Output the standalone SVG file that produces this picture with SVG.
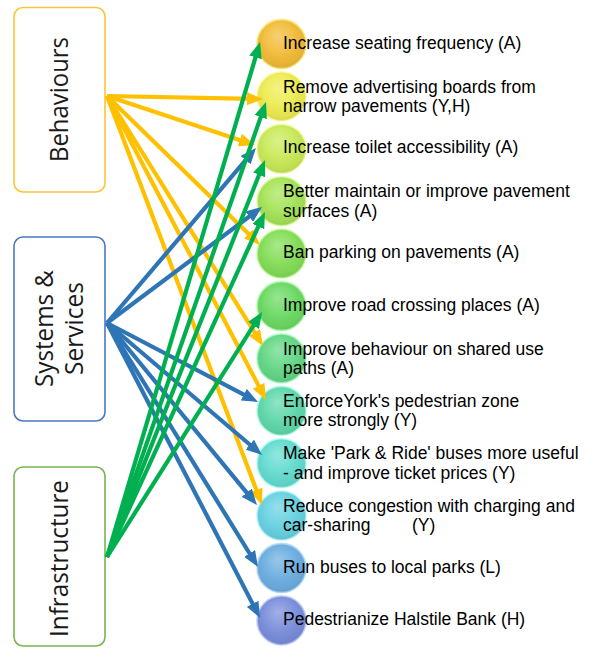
<svg xmlns="http://www.w3.org/2000/svg" width="595" height="648" viewBox="0 0 595 648">
<style>
.box{fill:#fff;stroke-width:1.6}
.bt{font-family:"Open Sans","Liberation Sans",sans-serif;font-size:25px;fill:#1a1a1a;text-anchor:middle}
.lt{font-family:"Liberation Sans",Arial,sans-serif;font-size:17.5px;fill:#000}
.ball{stroke-width:1.8;stroke-opacity:0.8}
.shade{fill:url(#shade)}
.y{stroke:#FFC000;stroke-width:4.2;fill:none;marker-end:url(#ay)}
.b{stroke:#2E75B6;stroke-width:4.2;fill:none;marker-end:url(#ab)}
.g{stroke:#00B050;stroke-width:4.2;fill:none;marker-end:url(#ag)}
</style>
<defs>
<radialGradient id="shade" cx="0.48" cy="0.42" r="0.55" fx="0.42" fy="0.32">
<stop offset="0" stop-color="#fff" stop-opacity="0.3"/>
<stop offset="0.55" stop-color="#fff" stop-opacity="0.06"/>
<stop offset="0.88" stop-color="#000" stop-opacity="0.04"/>
<stop offset="1" stop-color="#000" stop-opacity="0.08"/>
</radialGradient>
<marker id="ay" markerUnits="userSpaceOnUse" markerWidth="16" markerHeight="13" viewBox="0 0 16 13" refX="6" refY="6.5" orient="auto"><path d="M0,0 L16,6.5 L0,13 z" fill="#FFC000"/></marker>
<marker id="ab" markerUnits="userSpaceOnUse" markerWidth="16" markerHeight="13" viewBox="0 0 16 13" refX="6" refY="6.5" orient="auto"><path d="M0,0 L16,6.5 L0,13 z" fill="#2E75B6"/></marker>
<marker id="ag" markerUnits="userSpaceOnUse" markerWidth="16" markerHeight="13" viewBox="0 0 16 13" refX="6" refY="6.5" orient="auto"><path d="M0,0 L16,6.5 L0,13 z" fill="#00B050"/></marker>
</defs>

<g id="behaviours">
<rect class="box" x="14" y="7.5" width="91" height="184.5" rx="9" stroke="#F9C53A"/>
<text class="bt" transform="translate(68,99.5) rotate(-90)" textLength="125" lengthAdjust="spacingAndGlyphs">Behaviours</text>
</g>
<g id="systems">
<rect class="box" x="14" y="237" width="91" height="184" rx="9" stroke="#4A78C8"/>
<text class="bt" transform="translate(53,328.5) rotate(-90)" textLength="117" lengthAdjust="spacingAndGlyphs">Systems &amp;</text>
<text class="bt" transform="translate(83,328.5) rotate(-90)" textLength="93" lengthAdjust="spacingAndGlyphs">Services</text>
</g>
<g id="infrastructure">
<rect class="box" x="14" y="467" width="91" height="179" rx="9" stroke="#78B450"/>
<text class="bt" transform="translate(68,558.5) rotate(-90)" textLength="157" lengthAdjust="spacingAndGlyphs">Infrastructure</text>
</g>

<g id="n1"><circle class="ball" cx="281.5" cy="44" r="24.5" fill="#F2BC38" stroke="#FFE878"/><circle class="shade" cx="281.5" cy="44" r="24.5"/>
<text class="lt" x="283" y="48.5">Increase seating frequency (A)</text></g>
<g id="n2"><circle class="ball" cx="281.5" cy="96.4" r="24.5" fill="#EEEC52" stroke="#FFFFA0"/><circle class="shade" cx="281.5" cy="96.4" r="24.5"/>
<text class="lt" x="283" y="92.5">Remove advertising boards from</text><text class="lt" x="283" y="112">narrow pavements (Y,H)</text></g>
<g id="n3"><circle class="ball" cx="281.5" cy="148.8" r="24.5" fill="#C9EA58" stroke="#F4FFA0"/><circle class="shade" cx="281.5" cy="148.8" r="24.5"/>
<text class="lt" x="283" y="153.3">Increase toilet accessibility (A)</text></g>
<g id="n4"><circle class="ball" cx="281.5" cy="201.2" r="24.5" fill="#A6E458" stroke="#E4FFA0"/><circle class="shade" cx="281.5" cy="201.2" r="24.5"/>
<text class="lt" x="283" y="197.3">Better maintain or improve pavement</text><text class="lt" x="283" y="216.8">surfaces (A)</text></g>
<g id="n5"><circle class="ball" cx="281.5" cy="253.6" r="24.5" fill="#84DE58" stroke="#CCFFA0"/><circle class="shade" cx="281.5" cy="253.6" r="24.5"/>
<text class="lt" x="283" y="258.1">Ban parking on pavements (A)</text></g>
<g id="n6"><circle class="ball" cx="281.5" cy="306" r="24.5" fill="#6CDA64" stroke="#B8FFB0"/><circle class="shade" cx="281.5" cy="306" r="24.5"/>
<text class="lt" x="283" y="310.5">Improve road crossing places (A)</text></g>
<g id="n7"><circle class="ball" cx="281.5" cy="358.4" r="24.5" fill="#64D886" stroke="#B0FFC8"/><circle class="shade" cx="281.5" cy="358.4" r="24.5"/>
<text class="lt" x="283" y="354.5">Improve behaviour on shared use</text><text class="lt" x="283" y="374">paths (A)</text></g>
<g id="n8"><circle class="ball" cx="281.5" cy="410.8" r="24.5" fill="#60D8AC" stroke="#B0FFE4"/><circle class="shade" cx="281.5" cy="410.8" r="24.5"/>
<text class="lt" x="283" y="406.9">EnforceYork's pedestrian zone</text><text class="lt" x="283" y="426.4">more strongly (Y)</text></g>
<g id="n9"><circle class="ball" cx="281.5" cy="463.2" r="24.5" fill="#64DCD0" stroke="#B0FFF8"/><circle class="shade" cx="281.5" cy="463.2" r="24.5"/>
<text class="lt" x="283" y="459.3">Make 'Park &amp; Ride' buses more useful</text><text class="lt" x="283" y="478.8">- and improve ticket prices (Y)</text></g>
<g id="n10"><circle class="ball" cx="281.5" cy="515.6" r="24.5" fill="#68D2E2" stroke="#B0F6FF"/><circle class="shade" cx="281.5" cy="515.6" r="24.5"/>
<text class="lt" x="283" y="511.7">Reduce congestion with charging and</text><text class="lt" x="283" y="531.2">car-sharing<tspan x="412">(Y)</tspan></text></g>
<g id="n11"><circle class="ball" cx="281.5" cy="568" r="24.5" fill="#6CAEE0" stroke="#B0DCFF"/><circle class="shade" cx="281.5" cy="568" r="24.5"/>
<text class="lt" x="283" y="572.5">Run buses to local parks (L)</text></g>
<g id="n12"><circle class="ball" cx="281.5" cy="620.4" r="24.5" fill="#7A8EDC" stroke="#C0CCFF"/><circle class="shade" cx="281.5" cy="620.4" r="24.5"/>
<text class="lt" x="283" y="624.9">Pedestrianize Halstile Bank (H)</text></g>

<g id="connectors">
<path class="y" d="M107,96 L253,98.8"/>
<path class="y" d="M107,96 L245.5,141.9"/>
<path class="y" d="M107,96 L252.8,238"/>
<path class="y" d="M107,96 L257.7,337.5"/>
<path class="y" d="M107,96 L261.4,391.1"/>
<path class="y" d="M107,96 L258.5,495.6"/>
<path class="b" d="M107,323 L249.5,155.6"/>
<path class="b" d="M107,323 L254,213"/>
<path class="b" d="M107,323 L249.1,397.4"/>
<path class="b" d="M107,323 L254.4,448.5"/>
<path class="b" d="M107,323 L250.6,497.3"/>
<path class="b" d="M107,323 L252.7,558.5"/>
<path class="b" d="M107,323 L255.4,609.1"/>
<path class="g" d="M107,557 L257.2,51.6"/>
<path class="g" d="M107,557 L262.7,111.4"/>
<path class="g" d="M107,557 L261.3,169.3"/>
<path class="g" d="M107,557 L260.8,221.1"/>
<path class="g" d="M107,557 L256.7,320.5"/>
</g>
</svg>
